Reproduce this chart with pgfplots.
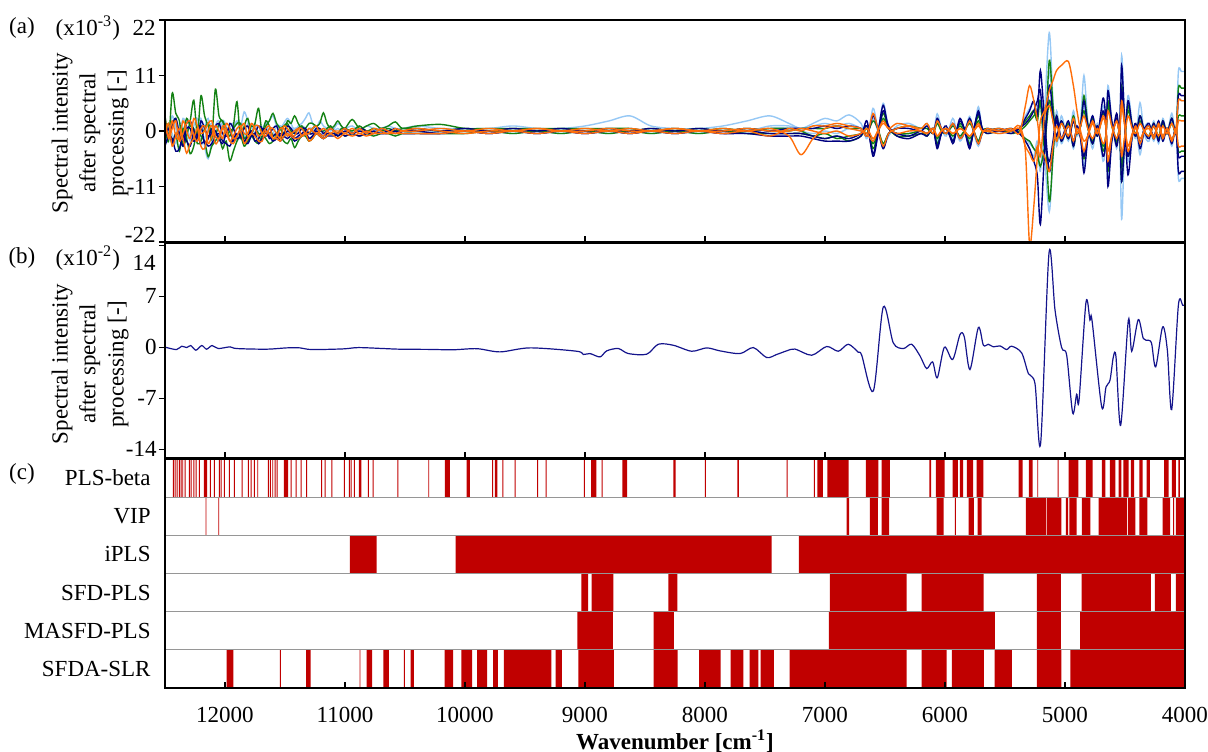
\documentclass[border=0pt]{standalone}
\usepackage{pgfplots}
\usepackage{pgfplotstable}
\pgfplotsset{compat=1.18}
\usepackage{fontspec}
\setmainfont{Liberation Serif}
\newcommand{\fs}{\fontsize{11.5pt}{14pt}\selectfont}
\definecolor{navyc}{RGB}{0,0,128}
\definecolor{lbc}{RGB}{150,200,245}
\definecolor{grc}{RGB}{20,130,20}
\definecolor{orc}{RGB}{255,110,10}
\definecolor{cred}{RGB}{192,0,0}
\definecolor{bline}{RGB}{20,20,140}
\definecolor{sepgray}{RGB}{150,150,150}

\pgfplotstableread{
wn N1 N2 N3 L1 L2 L3 G1 G2 G3 O1 O2 O3
12500 -1.5 2.0 -3.0 0.5 -2.0 1.5 1.0 -1.0 3.0 2.5 -0.5 1.0
12470 0.5 -1.0 -1.0 -1.5 1.0 -0.5 -2.0 1.5 -1.0 -1.5 1.5 -1.0
12440 -2.5 1.0 -1.5 2.0 -0.5 3.0 7.5 -2.5 1.0 0.5 -3.0 2.0
12410 -0.5 2.5 -4.0 0.5 -2.5 1.0 3.5 -0.5 2.5 2.0 -1.0 -1.0
12380 -1.0 -0.5 -3.5 -1.0 1.5 0.5 2.0 -4.0 -1.5 -2.0 0.5 -1.5
12350 -3.0 -1.5 -1.0 2.5 0.5 -1.5 -3.0 0.5 -0.5 -0.5 -1.5 2.0
12320 0.5 1.5 -2.0 1.0 -1.5 2.0 -1.0 -1.5 2.5 1.5 -4.4 0.0
12290 0.5 2.0 -3.0 -2.0 -0.5 1.5 2.0 -4.5 1.0 2.0 -2.5 -1.5
12260 -2.0 0.0 -0.5 -0.5 1.0 -1.0 6.1 -3.0 0.5 -1.0 -1.5 2.5
12230 -1.0 -1.5 -1.0 1.0 2.5 -1.5 -0.5 0.5 -2.5 -2.0 0.5 1.0
12200 1.0 2.0 -2.5 2.5 -2.5 1.0 7.0 -1.0 -2.0 0.5 -3.0 -0.5
12170 -2.5 0.5 -2.0 -3.0 -1.5 1.0 3.0 -2.0 0.5 1.0 -3.5 0.0
12140 -1.5 -1.0 -3.0 -5.5 0.5 2.5 1.0 -5.1 1.5 -2.5 0.0 1.5
12110 0.5 -0.5 -2.5 -2.0 1.5 -1.0 -1.5 -3.0 -0.5 -1.0 1.0 2.0
12080 0.0 1.0 -1.0 1.0 -1.0 -0.5 8.3 -2.0 -1.0 1.0 -2.5 -1.0
12050 -1.5 1.5 -0.5 2.0 -2.0 1.0 3.0 -1.0 1.5 0.0 -1.5 -1.5
12020 -2.5 -0.5 -2.0 -1.5 2.0 1.5 2.0 -3.5 2.0 -1.5 0.5 1.0
11990 -0.5 -1.0 -2.5 -0.5 1.0 -1.0 0.5 -2.0 -1.0 1.5 -0.5 0.5
11960 0.5 1.5 -3.0 0.5 -2.0 0.0 -1.0 -5.9 0.0 0.5 -2.0 -2.0
11930 -2.0 0.5 -1.5 1.5 -1.0 0.5 1.0 -4.0 0.5 -1.5 -2.5 -1.0
11900 -1.0 -1.5 -0.5 -2.0 0.5 2.0 5.8 -2.0 1.5 -1.0 -1.0 0.5
11870 0.0 -1.0 -1.0 0.5 1.0 -0.5 -1.5 -1.0 1.5 0.5 0.0 1.0
11840 -2.0 0.5 -2.0 3.8 -1.0 -1.0 1.0 -3.0 -1.5 1.5 -2.5 -0.5
11810 -1.0 1.0 -2.5 2.0 -0.5 1.5 2.5 -2.0 -0.5 -1.0 -1.5 -0.5
11780 0.0 -1.0 -1.0 0.5 1.0 1.0 -0.5 -1.0 1.0 -0.5 -0.5 1.5
11750 -2.0 -0.5 -0.5 1.5 0.5 -0.5 1.5 -2.0 0.5 1.0 -1.0 0.5
11720 -1.5 1.0 -2.5 -1.0 -1.5 0.0 4.5 -2.5 -0.5 1.0 -2.0 -1.0
11690 0.0 0.5 -1.5 0.5 -1.0 0.5 -0.5 -1.0 -0.5 -0.5 -2.0 -0.5
11660 0.5 -0.5 -1.0 1.5 0.5 1.5 1.0 -1.5 2.0 -1.0 0.0 0.5
11630 -1.5 -0.5 -1.0 2.0 0.5 -0.5 2.0 -2.5 1.0 0.5 -0.5 1.0
11600 -1.0 0.5 -2.0 3.0 -1.0 -0.5 3.5 -2.0 -1.0 0.5 -1.5 -1.5
11570 -0.5 1.0 -1.5 1.0 -0.5 1.0 1.5 -1.0 -0.5 -0.5 -1.5 -1.0
11540 -2.0 -1.0 -0.5 0.5 1.0 1.0 0.5 -1.0 0.5 -1.5 -2.0 0.5
11510 -1.0 -0.5 -1.0 1.5 0.5 -0.5 -0.5 -2.0 1.0 1.0 -1.0 0.5
11480 0.0 1.0 -1.5 2.5 -0.5 -1.0 2.0 -2.5 1.5 0.5 -0.5 -1.0
11450 -0.5 0.5 -1.0 1.5 -0.5 0.5 1.5 -1.5 0.0 -0.5 -1.0 -0.5
11420 -1.5 -0.5 -2.0 0.0 0.5 0.5 3.0 -3.3 -0.5 -1.0 -1.5 0.0
11390 -1.0 -0.5 -1.5 1.0 0.5 -0.5 1.5 -2.0 0.5 0.5 -1.5 0.5
11360 -0.5 0.5 -1.0 1.5 -1.0 1.0 0.5 -1.0 1.0 0.5 -1.0 -1.0
11330 0.0 0.5 -0.5 2.5 -0.5 0.5 0.5 -1.0 0.0 -0.5 -0.5 -0.5
11300 -1.5 -0.5 -1.5 3.6 0.5 -0.5 1.5 -2.0 -0.5 -0.5 -2.0 0.5
11270 -1.0 -0.5 -1.0 1.5 0.5 0.0 1.5 -1.5 0.5 0.5 -1.5 0.0
11240 0.0 0.5 -0.5 0.5 -0.5 0.5 1.0 -0.5 1.0 1.0 -0.5 -0.5
11210 -0.5 0.5 -1.0 2.0 0.0 -0.5 1.5 -1.0 0.0 -0.5 -1.0 0.0
11180 -1.0 -0.5 -1.5 1.0 0.5 -0.5 3.6 -1.5 0.0 -1.0 -1.5 0.5
11150 -0.5 0.0 -1.0 0.5 0.0 0.5 1.5 -1.0 0.5 0.0 -1.0 0.0
11120 -0.5 0.5 -1.0 0.0 -0.5 1.0 0.5 -0.5 1.0 0.5 -0.5 -0.5
11090 -0.5 0.0 -1.0 0.5 0.0 0.0 1.0 -0.5 0.0 0.0 -1.0 0.0
11060 -1.0 -0.5 -0.5 1.5 0.5 -0.5 2.0 -1.0 -0.5 -0.5 -1.5 0.0
11030 -0.5 0.0 -0.5 1.0 0.0 0.0 1.0 -0.5 0.5 0.0 -1.0 0.0
11000 0.0 0.5 -1.0 0.5 -0.5 0.5 0.5 -1.0 0.5 0.5 -0.5 -0.5
10940 -0.5 -0.5 -0.5 1.0 0.0 0.0 2.3 -0.5 0.0 -0.5 -1.0 0.5
10880 0.0 0.5 -1.0 0.0 0.5 0.5 0.5 -1.0 1.0 0.5 -0.5 -0.5
10820 -0.5 0.0 -0.5 1.0 -0.5 -0.5 1.0 -0.5 0.0 -0.5 -1.0 0.0
10760 0.0 -0.5 -0.5 0.5 0.0 0.5 1.5 -1.0 0.5 0.5 -0.5 -0.5
10700 -0.5 0.5 -0.5 0.5 0.5 -0.5 0.5 -0.5 0.0 0.0 -0.5 0.5
10640 0.0 0.0 -0.5 1.0 -0.5 0.5 1.0 -0.5 0.5 -0.5 -0.5 0.0
10580 -0.5 0.5 0.0 0.5 0.0 0.0 1.8 -1.0 0.0 0.5 -0.5 -0.5
10520 0.0 0.0 -0.5 0.5 0.0 0.5 0.5 -0.5 0.5 0.0 -0.5 0.0
10400 0.0 0.5 -0.5 1.0 -0.5 0.0 1.0 -0.5 0.5 0.0 -0.5 0.5
10200 -0.5 0.0 -0.5 0.5 0.0 0.5 1.3 -0.5 0.0 0.5 -0.5 0.0
10000 0.0 0.5 0.0 0.5 -0.5 0.0 0.5 -0.5 0.5 0.0 0.0 -0.5
9800 -0.5 0.0 -0.5 0.5 0.0 0.5 0.5 0.0 0.0 0.5 -0.5 0.0
9600 0.0 0.5 0.0 1.0 -0.5 0.0 0.5 -0.5 0.5 0.0 0.0 0.0
9400 -0.5 0.0 -0.5 0.5 0.0 0.5 0.5 0.0 0.0 0.5 -0.5 0.5
9200 0.0 0.5 0.0 0.5 -0.5 0.0 0.5 -0.5 0.5 0.0 0.0 0.0
9000 -0.5 0.0 -0.5 1.0 0.0 0.5 0.5 0.0 0.0 0.5 -0.5 0.0
8800 0.0 0.5 0.0 2.0 -0.5 0.0 0.5 -0.5 0.5 0.0 0.0 0.5
8625 -0.5 0.0 -0.5 3.0 0.5 0.5 0.5 0.0 0.0 0.5 -0.5 0.0
8450 0.0 0.5 0.0 1.0 -0.5 0.0 0.0 -0.5 0.5 0.0 0.0 0.0
8250 -0.5 0.0 -0.5 0.5 0.0 0.5 0.5 0.0 0.0 0.5 -0.5 0.5
8050 0.0 0.5 0.0 0.5 -0.5 0.0 0.0 -0.5 0.5 0.0 0.0 0.0
7850 -0.5 0.0 -0.5 1.0 0.5 0.5 0.5 0.0 0.0 0.5 -0.5 0.0
7650 0.0 0.5 -0.5 2.0 -0.5 0.0 0.0 -0.5 0.5 0.0 0.0 0.5
7460 -0.5 0.0 -1.0 3.0 0.5 1.0 0.5 -0.5 0.0 0.5 -1.0 0.0
7300 -0.5 0.5 -1.0 1.5 0.5 1.0 0.5 -0.5 0.0 -1.0 0.5 0.0
7200 -0.5 0.5 -1.0 0.5 0.0 0.5 0.0 -0.5 0.5 -4.7 0.0 0.5
7100 -1.0 0.5 -1.5 1.5 -0.5 1.0 -1.0 -1.0 0.5 -1.5 1.0 0.0
7000 -1.5 1.0 -2.0 2.5 0.0 1.5 -0.5 -1.5 0.5 0.5 1.0 -0.5
6900 -1.0 0.5 -2.0 2.0 -0.5 1.0 -1.5 -1.0 1.0 1.0 1.5 0.0
6800 -1.5 1.0 -2.0 3.2 0.5 1.5 -1.0 -2.0 0.5 0.5 1.0 -1.0
6700 -0.5 0.5 -1.0 1.5 0.0 0.5 -0.5 -1.0 0.5 0.0 0.5 -0.5
6650 1.0 -1.0 2.0 -1.5 0.5 -0.5 1.0 0.5 -0.5 -0.5 -1.0 0.5
6600 -4.5 3.0 -5.0 4.5 -2.0 2.5 -3.5 -2.5 2.0 -2.0 3.5 -1.5
6560 -0.5 0.5 -1.0 0.5 -0.5 0.0 -0.5 -0.5 0.5 0.0 0.5 0.0
6515 5.1 -3.5 4.0 -3.0 5.5 -2.5 3.5 2.5 -2.5 2.0 -3.0 1.5
6470 0.5 -0.5 1.0 -1.0 1.0 -0.5 0.5 0.5 -0.5 0.5 -0.5 0.5
6400 -0.5 0.5 -1.0 1.0 -0.5 0.5 -0.5 -1.0 0.5 1.5 0.5 -0.5
6300 -1.0 0.5 -1.5 1.5 -0.5 1.0 -0.5 -1.0 1.0 1.0 1.0 0.0
6200 0.0 0.0 -0.5 0.5 0.0 0.5 0.0 -0.5 0.5 0.0 0.5 0.0
6150 -0.5 1.0 -1.0 1.5 -1.0 1.0 -1.0 -0.5 0.5 -0.5 1.5 -0.5
6100 0.5 -0.5 0.5 -0.5 0.5 -0.5 0.5 0.5 -0.5 0.5 -0.5 0.5
6065 -3.0 2.5 -3.5 3.4 -2.0 2.0 -2.5 -1.5 1.5 -1.0 2.0 -1.0
6030 -0.5 0.5 -0.5 0.5 -0.5 0.5 -0.5 0.0 0.0 0.0 0.5 0.0
5990 0.5 -0.5 1.0 -1.0 0.5 -0.5 0.5 0.5 -0.5 0.5 -0.5 0.5
5935 -2.0 1.5 -2.5 2.5 -1.5 1.5 -2.0 -1.0 1.0 -0.5 1.5 -0.5
5905 0.0 0.0 0.0 0.0 0.0 0.0 0.0 0.0 0.0 0.0 0.0 0.0
5875 2.0 -1.5 2.5 -2.0 1.5 -1.5 1.5 1.0 -1.0 0.5 -1.5 0.5
5840 0.5 -0.5 0.5 -0.5 0.5 0.0 0.5 0.0 0.0 0.0 -0.5 0.0
5795 -3.0 2.5 -3.5 2.9 -2.0 2.0 -2.5 -1.5 1.5 -1.0 2.0 -1.0
5760 0.0 0.0 0.5 -0.5 0.0 0.0 0.0 0.0 0.0 0.0 0.0 0.0
5722 4.0 -2.5 3.5 -3.0 4.8 -2.0 3.0 2.0 -2.0 1.5 -2.5 1.0
5690 0.5 -0.5 0.5 -0.5 0.5 0.0 0.5 0.0 0.0 0.0 -0.5 0.0
5650 0.0 0.5 -0.5 0.5 0.0 0.0 -0.5 0.0 0.5 0.0 0.5 0.0
5550 0.5 0.0 0.0 0.0 0.5 -0.5 0.0 0.5 0.0 -0.5 0.0 0.5
5450 0.0 0.5 -0.5 0.5 0.0 0.0 0.0 -0.5 0.5 0.0 0.5 0.0
5380 0.5 -0.5 0.5 0.0 0.5 -0.5 0.5 0.0 -0.5 1.0 -0.5 0.5
5330 2.5 -2.0 1.5 -2.0 3.0 -1.5 2.0 1.0 -1.5 -4.0 5.0 -3.0
5295 4.0 -3.5 2.5 -3.5 4.5 -2.5 3.0 2.0 -2.0 -22.5 9.0 -4.5
5260 6.0 -6.0 4.0 -5.0 5.5 -3.5 4.0 3.0 -3.5 -15.0 6.0 -6.0
5230 3.0 -9.0 6.0 -2.0 4.0 -5.0 2.0 4.0 -4.5 -5.0 2.0 -3.0
5205 12.0 -18.5 8.0 -8.0 6.0 -7.0 6.0 5.0 -7.0 2.0 -3.0 -5.0
5170 2.0 -4.0 -2.0 4.0 -5.0 -3.0 -3.0 2.0 -3.0 4.0 -5.0 3.0
5131 -8.0 9.0 -6.0 19.5 -16.0 12.0 14.0 -14.0 6.0 8.0 -8.0 5.0
5100 -3.0 3.0 -2.0 6.0 -5.0 4.0 5.0 -5.0 2.0 10.0 -3.0 2.0
5070 2.0 -1.0 3.0 -3.0 4.0 -2.0 -2.0 3.0 -1.0 12.0 1.0 -2.0
5030 -2.0 2.0 -1.5 3.0 -2.5 2.0 2.0 -2.0 1.5 13.0 -1.5 1.5
4972 1.0 -1.5 2.0 -2.0 1.5 -1.0 -1.5 1.5 -1.0 13.8 1.0 -1.0
4930 -2.0 2.0 -3.0 4.0 -3.5 2.5 3.0 -3.0 2.0 9.0 -2.0 2.5
4900 0.5 -0.5 1.0 -1.0 1.0 -0.5 -0.5 0.5 -0.5 4.0 0.5 -0.5
4870 -1.0 1.0 -1.5 2.0 -1.5 1.0 1.0 -1.0 1.0 0.0 -1.0 1.0
4842 -8.3 6.0 -5.0 11.0 -7.0 5.0 7.0 -5.5 4.0 -2.0 -4.0 3.0
4810 -1.5 1.0 -1.0 2.0 -1.5 1.0 1.5 -1.0 0.5 -1.0 -1.0 0.5
4770 3.0 -2.5 2.0 -3.5 3.0 -2.0 -2.5 2.5 -2.0 1.5 2.0 -1.5
4730 -1.0 1.0 -0.5 1.5 -1.0 0.5 1.0 -1.0 0.5 -0.5 -0.5 0.5
4683 6.5 -5.0 4.0 -6.0 5.0 -4.0 -4.0 3.5 -3.0 2.5 3.0 -2.5
4660 2.0 -2.0 1.0 -2.0 1.5 -1.0 -1.0 1.0 -1.0 1.0 1.0 -1.0
4642 -11.0 8.0 -7.0 9.0 -10.0 6.0 6.0 -8.0 5.0 -4.0 -6.0 4.0
4610 -2.0 2.0 -1.5 2.0 -2.0 1.5 1.5 -1.5 1.0 -1.0 -1.0 1.0
4570 3.5 -3.0 2.5 -3.5 3.0 -2.0 -2.5 2.5 -2.0 2.0 2.0 -1.5
4545 0.0 0.0 0.0 0.0 0.0 0.0 0.0 0.0 0.0 0.0 0.0 0.0
4528 13.0 -10.0 8.0 -17.5 15.0 -8.0 -10.0 9.0 -7.0 5.0 6.0 -5.0
4505 3.0 -3.0 2.0 -4.0 4.0 -2.0 -3.0 2.5 -2.0 1.5 2.0 -1.5
4475 -8.7 6.0 -5.0 7.0 -6.0 4.5 5.0 -5.0 4.0 -3.0 -4.0 3.0
4440 -1.0 1.0 -1.0 1.5 -1.5 1.0 1.0 -1.0 1.0 -0.5 -1.0 0.5
4410 1.5 -1.0 1.0 -1.5 1.0 -1.0 -1.0 1.0 -0.5 0.5 1.0 -0.5
4375 -3.5 3.0 -2.5 5.6 -4.7 2.5 3.0 -2.5 2.0 -1.5 -2.5 1.5
4340 0.0 0.0 0.5 -0.5 0.5 0.0 0.0 0.0 0.0 0.0 0.0 0.0
4300 1.5 -1.5 1.0 -2.0 1.5 -1.0 -1.0 1.0 -1.0 0.5 1.0 -1.0
4260 -1.5 1.5 -1.0 2.0 -2.0 1.5 1.5 -1.5 1.0 -1.0 -1.5 1.0
4220 2.0 -2.0 1.5 -2.5 2.0 -1.5 -1.5 1.5 -1.0 1.0 1.5 -1.0
4185 -2.0 2.0 -1.5 2.5 -2.0 1.5 2.0 -1.5 1.5 -1.0 -1.5 1.0
4150 0.5 -0.5 0.5 -0.5 0.5 -0.5 -0.5 0.5 -0.5 0.5 0.5 -0.5
4110 -2.5 2.5 -2.0 3.5 -3.0 2.0 2.5 -2.0 1.5 -1.5 -2.0 1.5
4075 0.5 -0.5 0.5 -0.5 0.5 -0.5 -0.5 0.5 -0.5 0.5 0.5 -0.5
4055 -8.0 7.0 -5.0 11.8 -9.4 6.0 8.5 -4.0 3.0 6.0 -3.0 2.0
4030 -8.0 7.0 -5.0 11.8 -9.4 6.0 8.5 -4.0 3.0 6.0 -3.0 2.0
4000 -8.0 7.0 -5.0 11.8 -9.4 6.0 8.5 -4.0 3.0 6.0 -3.0 2.0
}\tabA

\pgfplotstableread{
wn v
12500 0.0
12486 -0.05
12403 -0.32
12361 0.14
12319 -0.05
12286 0.23
12242 -0.41
12194 0.23
12153 -0.27
12108 0.23
12056 -0.18
11958 0.05
11903 -0.18
11653 -0.27
11486 -0.09
11375 -0.09
11278 -0.32
11017 -0.23
10889 -0.05
10681 -0.18
10542 -0.27
10300 -0.30
10100 -0.35
9900 -0.20
9708 -0.64
9458 -0.09
9069 -0.55
9014 -1.0
8958 -0.87
8875 -1.33
8819 -0.50
8722 -0.18
8639 -0.87
8486 -0.96
8389 0.41
8264 0.27
8111 -0.55
7986 -0.09
7875 -0.50
7708 -0.87
7597 -0.05
7486 -1.42
7403 -1.0
7319 -0.50
7250 -0.25
7111 -1.10
6986 0.10
6889 -0.55
6806 0.41
6722 -0.70
6694 -1.10
6597 -6.0
6514 5.54
6431 0.6
6347 -0.18
6278 0.41
6208 -1.2
6153 -2.93
6103 -2.01
6064 -4.2
6005 0.0
5936 -1.69
5875 1.74
5839 1.42
5792 -3.07
5722 2.70
5680 0.27
5639 0.41
5597 0.05
5542 0.18
5486 -0.32
5444 0.14
5361 -0.78
5305 -3.62
5250 -4.99
5203 -13.2
5133 12.95
5083 5.08
5028 -0.05
4986 -1.10
4936 -9.02
4903 -6.45
4883 -7.28
4825 6.18
4792 3.71
4775 3.71
4694 -8.19
4658 -5.45
4625 -4.53
4597 -1.33
4575 -1.33
4536 -10.71
4472 3.71
4444 -0.55
4389 3.80
4347 1.19
4305 0.96
4278 0.50
4244 -2.70
4186 2.79
4147 -0.41
4111 -8.56
4055 5.77
4019 5.77
4000 5.77
}\tabB

\pgfplotsset{
  myaxis/.style={
    scale only axis, width=510pt,
    xmin=4000, xmax=12500, x dir=reverse,
    xtick={4000,5000,6000,7000,8000,9000,10000,11000,12000},
    tick pos=left, xtick align=inside, ytick align=outside,
    major tick length=3pt,
    tick style={black, line width=0.6pt},
    axis line style={black, line width=1.4pt},
    scaled x ticks=false, scaled y ticks=false,
    tick label style={font=\fs},
    yticklabel style={inner sep=1pt},
    axis on top,
  }
}

\begin{document}
\fs
\begin{tikzpicture}[every node/.append style={font=\fs}]
\useasboundingbox (0,0) rectangle (604pt,375.5pt);

% ---------- panel (a)
\begin{axis}[myaxis, at={(82.5pt,254.5pt)}, anchor=south west, height=111pt,
  ymin=-22, ymax=22, ytick={-22,-11,0,11,22}, yticklabels={,-11,0,11,},
  xticklabels={}]
\addplot[lbc, smooth, line width=0.7pt] table[x=wn,y=L1] {\tabA};
\addplot[lbc, smooth, line width=0.7pt] table[x=wn,y=L2] {\tabA};
\addplot[lbc, smooth, line width=0.7pt] table[x=wn,y=L3] {\tabA};
\addplot[grc, smooth, line width=0.7pt] table[x=wn,y=G1] {\tabA};
\addplot[grc, smooth, line width=0.7pt] table[x=wn,y=G2] {\tabA};
\addplot[grc, smooth, line width=0.7pt] table[x=wn,y=G3] {\tabA};
\addplot[navyc, smooth, line width=0.7pt] table[x=wn,y=N1] {\tabA};
\addplot[navyc, smooth, line width=0.7pt] table[x=wn,y=N2] {\tabA};
\addplot[navyc, smooth, line width=0.7pt] table[x=wn,y=N3] {\tabA};
\addplot[orc, smooth, line width=0.7pt] table[x=wn,y=O1] {\tabA};
\addplot[orc, smooth, line width=0.7pt] table[x=wn,y=O2] {\tabA};
\addplot[orc, smooth, line width=0.7pt] table[x=wn,y=O3] {\tabA};
\end{axis}

% ---------- panel (b)
\begin{axis}[myaxis, at={(82.5pt,146.5pt)}, anchor=south west, height=107.5pt,
  ymin=-15.2, ymax=14.3, ytick={-14,-7,0,7,14}, yticklabels={-14,-7,0,7,},
  xticklabels={}]
\addplot[bline, smooth, line width=0.6pt] table[x=wn,y=v] {\tabB};
\end{axis}

% ---------- panel (c)
\begin{axis}[myaxis, at={(82.5pt,31.5pt)}, anchor=south west, height=114.5pt,
  ymin=0, ymax=6, ytick={0.5,1.5,2.5,3.5,4.5,5.5},
  yticklabels={SFDA-SLR,MASFD-PLS,SFD-PLS,iPLS,VIP,PLS-beta},
  ytick style={draw=none}, yticklabel style={xshift=-3pt},
  xticklabels={4000,5000,6000,7000,8000,9000,10000,11000,12000},
  xticklabel style={yshift=-5.5pt}]
% PLS-beta
\addplot[fill=cred, draw=none, const plot mark left] table[x index=0, y expr=\thisrowno{1}+5] {
12500 0
12434 1
12426 0
12420 1
12412 0
12403 1
12395 0
12384 1
12376 0
12370 1
12362 0
12356 1
12348 0
12337 1
12329 0
12301 1
12293 0
12287 1
12279 0
12264 1
12256 0
12245 1
12237 0
12217 1
12209 0
12176 1
12148 0
12126 1
12118 0
12092 1
12084 0
12051 1
12043 0
12037 1
12029 0
12009 1
12001 0
11967 1
11959 0
11926 1
11918 0
11862 1
11854 0
11809 1
11801 0
11787 1
11779 0
11759 1
11751 0
11731 1
11723 0
11642 1
11634 0
11626 1
11618 0
11606 1
11598 0
11587 1
11579 0
11570 1
11562 0
11509 1
11473 0
11453 1
11445 0
11412 1
11404 0
11370 1
11362 0
11323 1
11315 0
11198 1
11190 0
11170 1
11162 0
11114 1
11106 0
11009 1
11001 0
10967 1
10959 0
10953 1
10945 0
10926 1
10918 0
10884 1
10864 0
10809 1
10801 0
10770 1
10762 0
10564 1
10556 0
10306 1
10298 0
10167 1
10125 0
9987 1
9959 0
9773 1
9765 0
9751 1
9731 0
9689 1
9681 0
9587 1
9579 0
9398 1
9390 0
9328 1
9320 0
9009 1
9001 0
8948 1
8906 0
8862 1
8854 0
8689 1
8648 0
8264 1
8245 0
8000 1
7992 0
7731 1
7717 0
7320 1
7312 0
7092 1
7084 0
7064 1
7017 0
6981 1
6803 0
6659 1
6556 0
6528 1
6459 0
6131 1
6115 0
6076 1
6003 0
5937 1
5892 0
5876 1
5848 0
5817 1
5765 0
5737 1
5681 0
5387 1
5353 0
5301 1
5270 0
5231 1
5223 0
5062 1
5054 0
4970 1
4889 0
4826 1
4770 0
4692 1
4664 0
4626 1
4581 0
4553 1
4531 0
4514 1
4470 0
4450 1
4423 0
4381 1
4353 0
4320 1
4292 0
4173 1
4137 0
4109 1
4075 0
4056 1
4042 0
};
% VIP
\addplot[fill=cred, draw=none, const plot mark left] table[x index=0, y expr=\thisrowno{1}+4] {
12500 0
12162 1
12155 0
12056 1
12049 0
6820 1
6798 0
6626 1
6559 0
6528 1
6465 0
6070 1
6012 0
5917 1
5909 0
5803 1
5759 0
5728 1
5695 0
5326 1
5159 0
5153 1
5031 0
4992 1
4973 0
4964 1
4903 0
4859 1
4789 0
4720 1
4484 0
4476 1
4414 0
4381 1
4314 0
4187 1
4123 0
4098 1
4090 0
4075 1
4000 0
};
% iPLS
\addplot[fill=cred, draw=none, const plot mark left] table[x index=0, y expr=\thisrowno{1}+3] {
12500 0
10959 1
10737 0
10078 1
7445 0
7217 1
4000 0
};
% SFD-PLS
\addplot[fill=cred, draw=none, const plot mark left] table[x index=0, y expr=\thisrowno{1}+2] {
12500 0
9031 1
8973 0
8945 1
8764 0
8306 1
8231 0
6959 1
6320 0
6195 1
5678 0
5234 1
5034 0
4862 1
4284 0
4250 1
4117 0
4075 1
4000 0
};
% MASFD-PLS
\addplot[fill=cred, draw=none, const plot mark left] table[x index=0, y expr=\thisrowno{1}+1] {
12500 0
9064 1
8767 0
8428 1
8259 0
6967 1
5584 0
5234 1
5034 0
4873 1
4010 0
};
% SFDA-SLR
\addplot[fill=cred, draw=none, const plot mark left] table[x index=0, y expr=\thisrowno{1}] {
12500 0
11987 1
11931 0
11543 1
11535 0
11323 1
11287 0
10879 1
10871 0
10820 1
10773 0
10681 1
10634 0
10509 1
10501 0
10454 1
10426 0
10170 1
10098 0
10031 1
9940 0
9898 1
9815 0
9765 1
9726 0
9675 1
9281 0
9245 1
9192 0
9056 1
8759 0
8428 1
8228 0
8048 1
7870 0
7787 1
7681 0
7628 1
7556 0
7537 1
7425 0
7295 1
6320 0
6195 1
5987 0
5942 1
5676 0
5587 1
5442 0
5234 1
5031 0
4956 1
4000 0
};
\draw[sepgray, line width=0.6pt] (axis cs:12500,1) -- (axis cs:4000,1);
\draw[sepgray, line width=0.6pt] (axis cs:12500,2) -- (axis cs:4000,2);
\draw[sepgray, line width=0.6pt] (axis cs:12500,3) -- (axis cs:4000,3);
\draw[sepgray, line width=0.6pt] (axis cs:12500,4) -- (axis cs:4000,4);
\draw[sepgray, line width=0.6pt] (axis cs:12500,5) -- (axis cs:4000,5);
\end{axis}

% ---------- labels
\node at (11pt,361.5pt) {(a)};
\node[anchor=east] at (64pt,361.5pt) {(x10\textsuperscript{-3})};
\node[anchor=east, inner sep=1pt] at (79pt,361.5pt) {22};
\node[anchor=east, inner sep=1pt] at (79pt,258pt) {-22};
\node at (11pt,246.5pt) {(b)};
\node[anchor=east] at (64pt,246.5pt) {(x10\textsuperscript{-2})};
\node[anchor=east, inner sep=1pt] at (79pt,244pt) {14};
\node at (11pt,138.5pt) {(c)};
\node[rotate=90, align=center] at (45pt,309pt) {Spectral intensity\\after spectral\\processing [-]};
\node[rotate=90, align=center] at (45pt,193.5pt) {Spectral intensity\\after spectral\\processing [-]};
\node at (337.5pt,5pt) {\textbf{Wavenumber [cm\textsuperscript{-1}]}};
\end{tikzpicture}
\end{document}
